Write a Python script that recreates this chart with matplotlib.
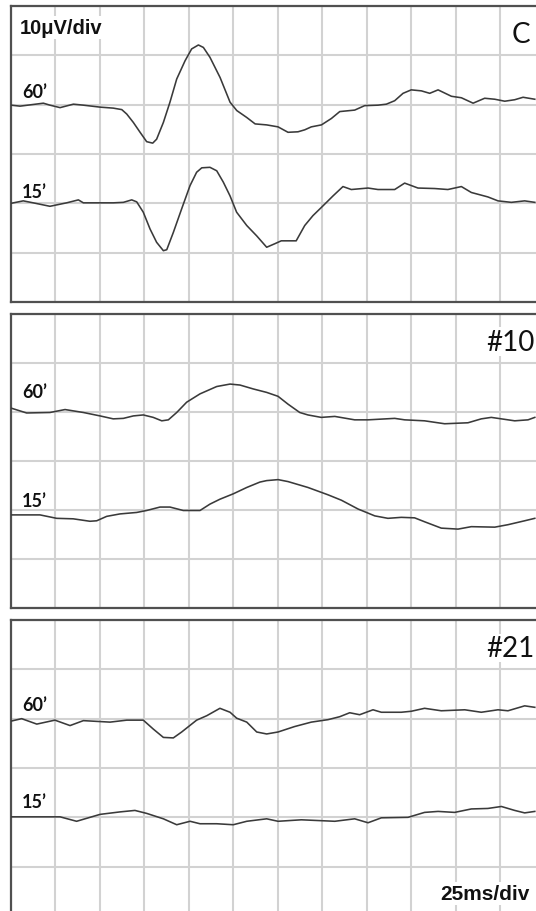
import matplotlib
matplotlib.use("Agg")
import matplotlib.pyplot as plt

# Evoked potential traces, time in ms (25 ms/div), amplitude in µV (10 µV/div)
c60_t = [0, 5.1, 18.2, 21.9, 27.6, 35.1, 40.7, 50.1, 57.5, 62.3, 65.1, 68.8, 72.6, 76.3, 79.7,
         81.9, 85.7, 89.4, 93.2, 97.9, 101.6, 105.4, 108.2, 111.9, 117.6, 123.2, 127.0, 132.6,
         137.3, 143.8, 150.2, 155.8, 161.4, 165.2, 168.9, 174.6, 180.2, 184.9, 193.3, 198.9,
         206.4, 211.1, 215.8, 220.5, 225.1, 230.8, 235.5, 240.2, 247.7, 253.3, 259.9, 266.4,
         272.1, 277.7, 283.3, 288.0, 294.6]
c60_v = [39.9, 39.7, 40.3, 39.9, 39.4, 40.1, 39.9, 39.5, 39.3, 39.0, 38.1, 36.4, 34.4, 32.5, 32.2,
         33.0, 36.4, 40.5, 45.2, 48.9, 51.3, 52.1, 51.6, 49.6, 45.5, 40.5, 38.8, 37.4,
         36.1, 35.9, 35.5, 34.4, 34.5, 34.9, 35.5, 35.9, 37.2, 38.6, 38.9, 39.8,
         39.9, 40.1, 40.8, 42.3, 43.0, 42.8, 42.3, 43.0, 41.7, 41.4, 40.3, 41.3,
         41.1, 40.7, 41.0, 41.5, 41.1]

c15_t = [0, 6.9, 12.5, 21.9, 31.3, 37.9, 40.7, 50.1, 57.5, 63.2, 67.9, 70.7, 74.4, 78.2, 81.9,
         85.7, 87.6, 91.3, 96.0, 100.7, 104.4, 107.3, 111.9, 115.7, 119.4, 123.2, 126.9, 132.6,
         138.2, 143.8, 148.3, 152.0, 160.4, 165.2, 169.8, 175.5, 181.1, 186.7, 191.4, 200.8,
         206.4, 215.8, 221.4, 228.9, 238.3, 245.7, 253.3, 258.9, 268.2, 273.9, 281.4, 288.9, 294.6]
c15_v = [20.0, 20.5, 20.1, 19.4, 20.1, 20.7, 20.1, 20.1, 20.1, 20.2, 20.7, 20.3, 18.2, 14.8, 12.1,
         10.4, 10.6, 14.1, 18.9, 23.6, 26.3, 27.2, 27.3, 26.6, 24.3, 21.5, 18.2, 15.5,
         13.4, 11.1, 11.8, 12.4, 12.4, 15.5, 17.5, 19.5, 21.5, 23.4, 22.8, 23.1,
         22.8, 22.8, 24.1, 23.1, 23.0, 22.8, 23.4, 22.2, 21.3, 20.5, 20.2, 20.5, 20.2]

s10_60_t = [0, 8.8, 21.9, 30.4, 40.7, 50.1, 57.5, 63.2, 68.8, 74.4, 80.0, 84.8, 88.5, 93.2, 98.8,
            106.3, 115.7, 123.2, 128.8, 136.3, 143.8, 150.2, 155.8, 162.4, 167.0, 174.5, 182.1,
            193.3, 200.8, 215.8, 221.4, 232.6, 243.9, 257.0, 264.5, 270.1, 275.8, 283.3, 290.8, 294.6]
s10_60_v = [40.8, 39.8, 39.9, 40.5, 39.9, 39.2, 38.6, 38.7, 39.2, 39.4, 38.9, 38.2, 38.4, 39.9, 42.0,
            43.7, 45.2, 45.7, 45.5, 44.7, 44.0, 43.2, 41.6, 39.9, 39.4, 38.9, 39.1,
            38.4, 38.4, 38.7, 38.4, 38.2, 37.6, 37.8, 38.6, 38.9, 38.6, 38.2, 38.4, 38.9]

s10_15_t = [0, 16.3, 25.7, 35.0, 44.4, 48.2, 53.8, 61.3, 70.7, 76.3, 83.8, 89.4, 96.9, 106.3, 111.9,
            117.5, 125.0, 132.6, 140.0, 143.8, 150.2, 155.8, 167.0, 178.3, 185.8, 195.2, 204.6,
            212.0, 219.5, 227.0, 232.6, 242.0, 251.4, 258.9, 272.1, 279.5, 288.9, 294.6]
s10_15_v = [19.0, 19.0, 18.3, 18.2, 17.7, 17.8, 18.7, 19.2, 19.5, 19.9, 20.6, 20.6, 19.9, 19.9, 21.2,
            22.2, 23.3, 24.6, 25.7, 26.0, 26.2, 25.8, 24.6, 23.1, 22.0, 20.2, 18.8,
            18.3, 18.5, 18.4, 17.6, 16.3, 16.1, 16.6, 16.5, 17.0, 17.8, 18.3]

s21_60_t = [0, 6.0, 14.5, 24.7, 33.2, 40.7, 55.7, 65.1, 74.4, 80.0, 85.7, 91.3, 96.0, 104.4, 110.1,
            117.5, 123.2, 126.9, 132.6, 138.2, 143.8, 150.2, 159.5, 168.9, 178.3, 184.9, 190.5,
            196.1, 203.6, 208.3, 219.5, 225.1, 232.6, 242.0, 255.2, 264.5, 273.9, 279.5, 288.9, 294.6]
s21_60_v = [39.5, 40.0, 38.9, 39.7, 38.6, 39.6, 39.3, 39.7, 39.7, 37.9, 36.2, 36.1, 37.3, 39.7, 40.6,
            42.1, 41.3, 40.1, 39.3, 37.3, 36.9, 37.3, 38.4, 39.3, 39.8, 40.4, 41.2,
            40.8, 41.8, 41.3, 41.3, 41.5, 42.1, 41.6, 41.8, 41.3, 41.8, 41.6, 42.6, 42.3]

s21_15_t = [0, 27.6, 36.9, 50.1, 61.3, 69.7, 76.3, 85.7, 93.2, 100.7, 106.3, 115.7, 125.0, 132.6,
            143.8, 150.2, 163.3, 182.1, 193.3, 200.8, 208.3, 223.3, 232.6, 240.2, 249.5, 258.9,
            268.2, 275.8, 283.3, 288.9, 294.6]
s21_15_v = [20.1, 20.1, 19.2, 20.6, 21.1, 21.4, 20.8, 19.7, 18.5, 19.2, 18.7, 18.7, 18.5, 19.2,
            19.7, 19.2, 19.5, 19.2, 19.7, 18.9, 19.9, 20.0, 21.0, 21.2, 21.0, 21.7,
            21.8, 22.2, 21.4, 20.9, 21.2]

panel_names = ["C", "#10", "#21"]
trace_labels = ["60\u2019", "15\u2019"]
label_levels = [(41.6, 21.3), (43.1, 20.8), (41.8, 22.1)]

panels = [
    (c60_t, c60_v, c15_t, c15_v),
    (s10_60_t, s10_60_v, s10_15_t, s10_15_v),
    (s21_60_t, s21_60_v, s21_15_t, s21_15_v),
]

W, H = 536, 912
fig = plt.figure(figsize=(W / 100, H / 100), dpi=100)
fig.patch.set_facecolor("white")

# panel frames in pixels: (left, top, bottom)
frames = [(11, 7, 303), (11, 315, 609), (11, 621, 917)]
div_w = 44.45

grid_col = "#d2d2d2"
trace_col = "#3a3a3a"
frame_col = "#505050"
num_font = ["Lato", "DejaVu Sans"]
scale_font = ["Liberation Sans", "DejaVu Sans"]

for (left, top, bottom), (t60, v60, t15, v15), name, (y60, y15) in zip(
        frames, panels, panel_names, label_levels):
    ax = fig.add_axes([left / W, (H - bottom) / H, 12 * div_w / W, (bottom - top) / H])
    ax.set_xlim(0, 300)
    ax.set_ylim(0, 60)
    ax.set_xticks(range(0, 301, 25))
    ax.set_yticks(range(0, 61, 10))
    ax.grid(True, color=grid_col, linewidth=1.5)
    ax.tick_params(length=0, labelbottom=False, labelleft=False)
    for sp in ax.spines.values():
        sp.set_color(frame_col)
        sp.set_linewidth(1.6)
    ax.set_axisbelow(True)

    ax.plot(t60, v60, color=trace_col, linewidth=1.15, zorder=3)
    ax.plot(t15, v15, color=trace_col, linewidth=1.15, zorder=3)

    ax.text(6.2, y60, trace_labels[0], family=num_font, fontweight="bold",
            fontsize=13, va="baseline", ha="left", color="#111111", zorder=4)
    ax.text(6.2, y15, trace_labels[1], family=num_font, fontweight="bold",
            fontsize=13, va="baseline", ha="left", color="#111111", zorder=4)

    nx = 281.5 if name == "C" else 267.5
    ax.text(nx, 52.7, name, family=num_font, fontsize=20, va="baseline", ha="left",
            color="#111111", zorder=4,
            bbox=dict(facecolor="white", edgecolor="none", pad=1.0))

    if name == "C":
        ax.text(5.0, 54.5, "10\u03bcV/div", family=scale_font, fontweight="bold",
                fontsize=14.5, va="baseline", ha="left", color="#111111", zorder=4,
                bbox=dict(facecolor="white", edgecolor="none", pad=1.5))
    if name == "#21":
        ax.text(241.3, 3.4, "25ms/div", family=scale_font, fontweight="bold",
                fontsize=15, va="baseline", ha="left", color="#111111", zorder=4,
                bbox=dict(facecolor="white", edgecolor="none", pad=1.5))

fig.savefig("out.png", dpi=100, facecolor="white")
